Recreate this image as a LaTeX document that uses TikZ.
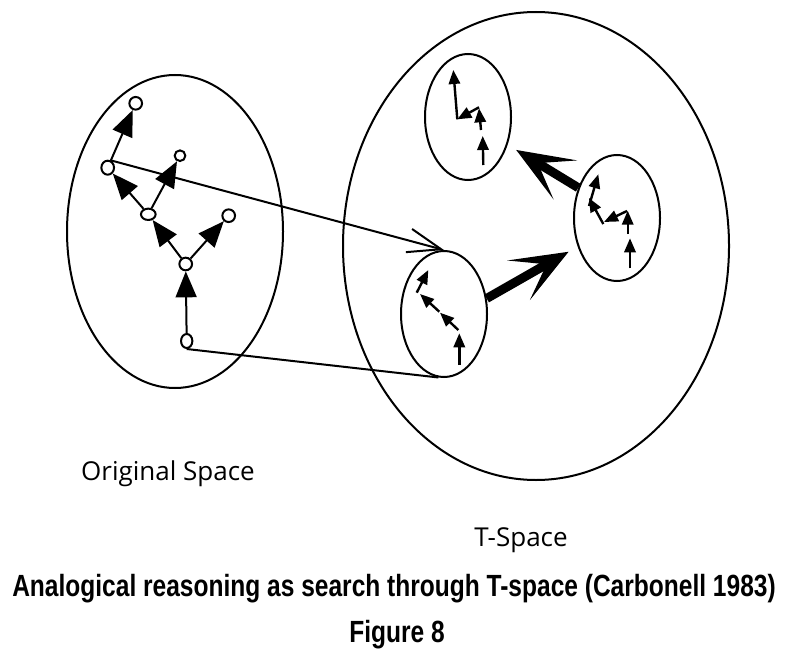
\documentclass[tikz,border=0pt]{standalone}
\usepackage{fontspec}
\setmainfont{Open Sans}
\newfontfamily\capfont[FakeStretch=0.80]{Liberation Sans}
\usetikzlibrary{arrows.meta,shapes.geometric}

\begin{document}
\begin{tikzpicture}[
  x=0.75pt,y=-0.75pt,
  space/.style={ellipse,draw,line width=1.5pt,inner sep=0pt},
  vert/.style={ellipse,draw,line width=1.5pt,fill=white,inner sep=0pt,
               minimum width=9.5pt,minimum height=9.5pt},
  move/.style={line width=1.5pt,-{Triangle[length=19.5pt,width=15.75pt]}},
  op/.style={line width=1.8pt,-{Triangle[length=10.5pt,width=8.5pt]}},
  jump/.style={line width=6.75pt,-{Stealth[length=43pt,width=34pt,inset=24pt]}},
  map/.style={line width=1.5pt},
  spacename/.style={font=\fontsize{19.5}{22}\selectfont},
  figcap/.style={font=\capfont\bfseries\fontsize{23}{26}\selectfont}
]
\useasboundingbox (0,0) rectangle (788,649);

% Original space with its search tree.
\node[space,minimum width=162pt,minimum height=234.75pt] (orig) at (175,231.5) {};
\node[vert] (v1) at (135.7,103.3) {};
\node[vert,minimum height=10.5pt] (v2) at (107.7,167.7) {};
\node[vert,minimum width=8pt,minimum height=8pt] (v3) at (180,155.7) {};
\node[vert,minimum width=11pt,minimum height=8.5pt] (v4) at (148.3,214.3) {};
\node[vert] (v5) at (228.7,215.7) {};
\node[vert] (v6) at (185.7,264) {};
\node[vert,minimum width=8.5pt,minimum height=10.5pt] (v7) at (186.7,341) {};

\draw[move] (v7) -- (v6);
\draw[move] (v6) -- (v4);
\draw[move] (v6) -- (v5);
\draw[move] (v4) -- (v2);
\draw[move] (v4) -- (v3);
\draw[move] (v2) -- (v1);

% T-space and the three operator sequences inside it.
\node[space,minimum width=289.5pt,minimum height=351pt] (tsp) at (536,246) {};
\node[space,minimum width=64.5pt,minimum height=94.5pt] (seqa) at (444,314) {};
\node[space,minimum width=64.5pt,minimum height=94.5pt] (seqb) at (617,218) {};
\node[space,minimum width=64.5pt,minimum height=94.5pt] (seqc) at (468,117) {};

\foreach \xa/\ya/\xb/\yb in {459.3/365/459.3/333.3, 458.3/330/440/312.7,
    439.3/311.7/420/294, 416.7/292.7/428.3/270} {
  \draw[op] (\xa,\ya) -- (\xb,\yb);
}
\foreach \xa/\ya/\xb/\yb in {630/268.3/630/238.3, 627.7/234/627.7/210.7,
    627/211/604/222, 603.3/224/589/198, 589/206/598.3/174.3} {
  \draw[op] (\xa,\ya) -- (\xb,\yb);
}
\foreach \xa/\ya/\xb/\yb in {483.3/165/482.7/136, 481/130/479/108.3,
    479/107.3/457.3/119.3, 457.3/119.3/453.3/70} {
  \draw[op] (\xa,\ya) -- (\xb,\yb);
}

% Mapping into T-space and the moves between sequences.
\draw[map,-{Straight Barb[length=25pt,width=18pt]}] (v2.70) -- (seqa.north);
\draw[map] (v7.south) -- (seqa.265);
\draw[jump,shorten >=7.8pt] (seqa.20) -- (seqb.216);
\draw[jump,shorten >=7.5pt] (seqb.142) -- (seqc.-35);

\node[spacename] (origname) at (168,474) {Original Space};
\node[spacename] (tname) at (521,540) {T-Space};
\node[figcap] (title) at (394,589)
  {Analogical reasoning as search through T-space (Carbonell 1983)};
\node[figcap] (fignum) at (397,635) {Figure 8};

\end{tikzpicture}
\end{document}
